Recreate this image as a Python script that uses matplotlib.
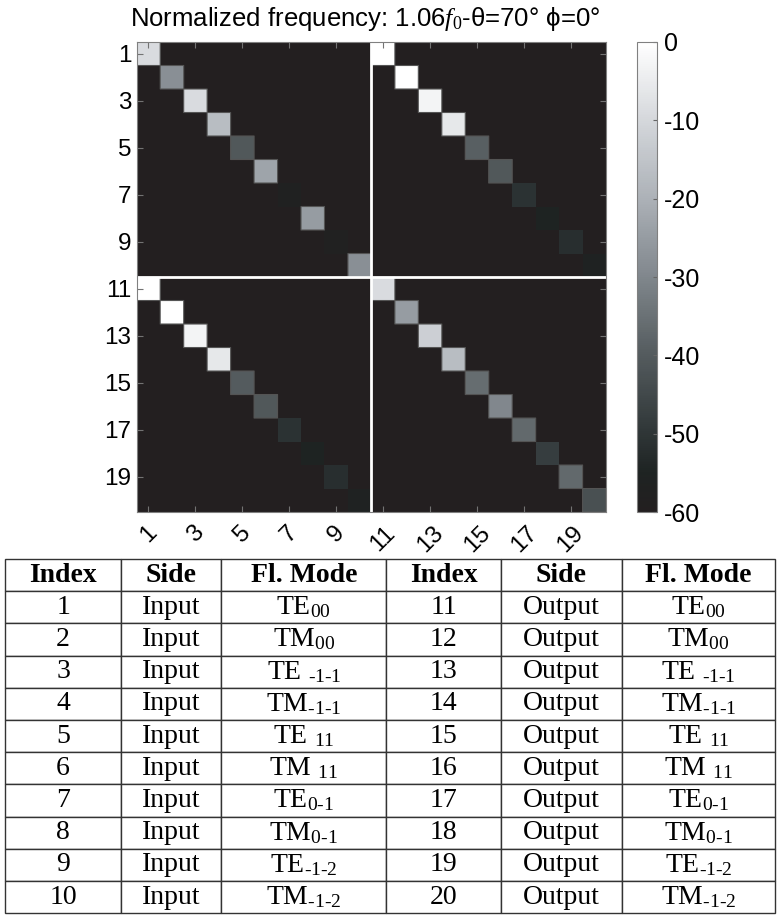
import numpy as np
import matplotlib.pyplot as plt
from matplotlib.colors import LinearSegmentedColormap

plt.rcParams['font.family'] = ['Liberation Sans', 'DejaVu Sans']
plt.rcParams['mathtext.fontset'] = 'custom'
plt.rcParams['mathtext.rm'] = 'Liberation Serif'
plt.rcParams['mathtext.it'] = 'Liberation Serif:italic'
plt.rcParams['axes.unicode_minus'] = False

# diagonal levels (dB) of the four 10x10 blocks
refl_in = [-9, -28, -9, -17, -41, -23, -57, -25, -58, -28]
trans_in_out = [0, 0, -3, -6, -39, -41, -51, -55, -52, -56]
trans_out_in = [0, 0, -3, -6, -40, -41, -51, -55, -52, -56]
refl_out = [-9, -25, -12, -17, -36, -30, -37, -48, -37, -43]
floor_db = -60

indices = list(range(1, 21))
modes = ['TE$_{00}$', 'TM$_{00}$', r'TE $_{\text{-1-1}}$', r'TM$_{\text{-1-1}}$',
         'TE $_{11}$', 'TM $_{11}$', r'TE$_{\text{0-1}}$', r'TM$_{\text{0-1}}$',
         r'TE$_{\text{-1-2}}$', r'TM$_{\text{-1-2}}$']
header = ['Index', 'Side', 'Fl. Mode', 'Index', 'Side', 'Fl. Mode']
col_w = [116, 100, 165, 114, 121, 153]

cmap = LinearSegmentedColormap.from_list('grayish', [
    (0.0, '#231f20'), (0.083, '#1e2322'), (0.167, '#2f3637'),
    (0.333, '#545b5e'), (0.5, '#80878c'), (0.667, '#acb1b7'),
    (0.833, '#d4d7db'), (1.0, '#ffffff')])

n = 10
mat = np.full((2 * n, 2 * n), float(floor_db))
for k in range(n):
    mat[k, k] = refl_in[k]
    mat[k, k + n] = trans_in_out[k]
    mat[k + n, k] = trans_out_in[k]
    mat[k + n, k + n] = refl_out[k]

fig = plt.figure(figsize=(7.77, 9.15), dpi=100)

ax = fig.add_axes([0.176, 0.4404, 0.604, 0.5137])
edges = np.arange(2 * n + 1)
mesh = ax.pcolormesh(edges, edges, mat, cmap=cmap, vmin=-60, vmax=0)
# thin outline only around the brighter cells
lit = np.ma.masked_where(mat < -46, mat)
ax.pcolor(edges, edges, lit, cmap=cmap, vmin=-60, vmax=0,
          edgecolors='0.33', linewidth=0.8)
ax.axhline(n, color='white', lw=2)
ax.axvline(n, color='white', lw=2)
ax.set_xlim(0, 2 * n)
ax.set_ylim(2 * n, 0)
ticks = np.arange(0.5, 2 * n, 2)
ax.set_xticks(ticks)
ax.set_xticklabels(indices[::2], rotation=45, ha='center', va='top')
ax.set_yticks(ticks)
ax.set_yticklabels(indices[::2])
ax.tick_params(direction='in', length=4, color='0.45', top=True, right=True,
               labelsize=17.5, pad=4)
ax.tick_params(axis='x', pad=7)
for s in ax.spines.values():
    s.set_color('0.5')

cax = fig.add_axes([0.820, 0.4404, 0.026, 0.5137])
cb = fig.colorbar(mesh, cax=cax, ticks=range(-60, 1, 10))
cb.outline.set_edgecolor('0.5')
cax.tick_params(direction='in', length=3, color='0.4', labelsize=18, pad=5)

fig.text(0.47, 0.979, 'Normalized frequency: 1.06$\\mathit{f}_0$-θ=70° ϕ=0°',
         ha='center', va='center', fontsize=18.5)

tab_ax = fig.add_axes([0.0064, 0.002, 0.991, 0.387])
tab_ax.axis('off')
rows = [[str(indices[k]), 'Input', modes[k], str(indices[k + n]), 'Output', modes[k]]
        for k in range(n)]
tbl = tab_ax.table(cellText=rows, colLabels=header, colWidths=col_w,
                   cellLoc='center', bbox=[0, 0, 1, 1])
tbl.auto_set_font_size(False)
for (r, c), cell in tbl.get_celld().items():
    cell.set_edgecolor('#333333')
    cell.set_linewidth(1.0)
    t = cell.get_text()
    t.set_fontfamily('Liberation Serif')
    t.set_fontsize(20)
    if r == 0:
        t.set_fontweight('bold')

fig.savefig('out.png', dpi=100)
